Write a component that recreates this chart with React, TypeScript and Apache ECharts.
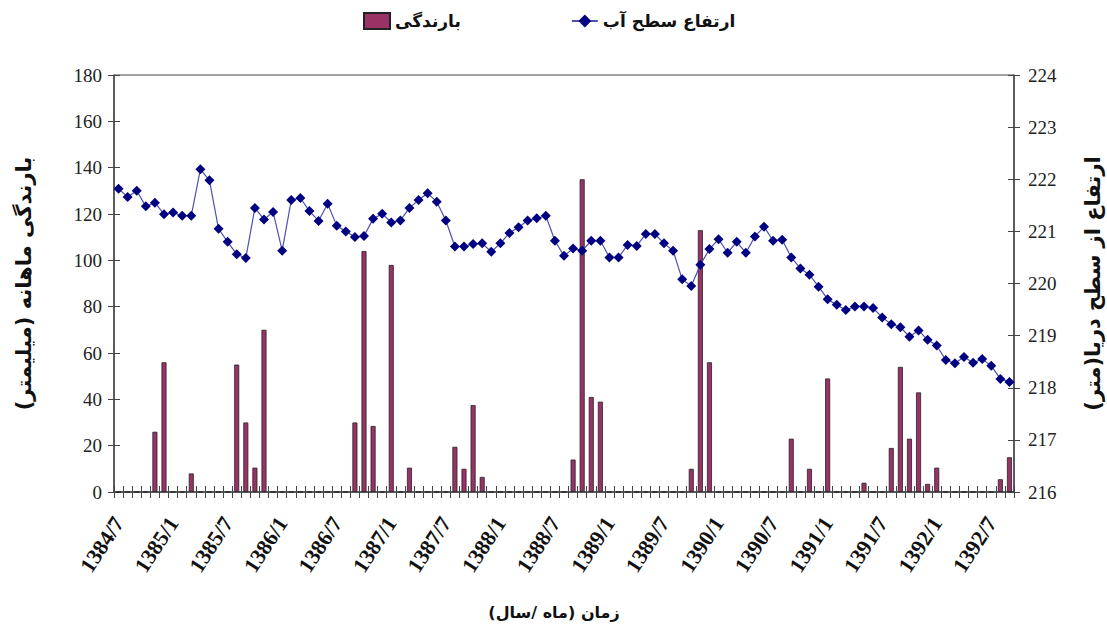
import React, { useEffect, useRef } from "react";
import * as echarts from "echarts";

const startYear = 1384;
const startMonth = 7;
const monthCount = 99;
const months: string[] = [];
for (let i = 0; i < monthCount; i++) {
  const m = startMonth - 1 + i;
  months.push(`${startYear + Math.floor(m / 12)}/${(m % 12) + 1}`);
}

const rainfall = [
  0, 0, 0, 0, 26, 56, 0, 0, 8, 0,
  0, 0, 0, 55, 30, 10.5, 70, 0, 0, 0,
  0, 0, 0, 0, 0, 0, 30, 104, 28.5, 0,
  98, 0, 10.5, 0, 0, 0, 0, 19.5, 10, 37.5,
  6.5, 0, 0, 0, 0, 0, 0, 0, 0, 0,
  14, 135, 41, 39, 0, 0, 0, 0, 0, 0,
  0, 0, 0, 10, 113, 56, 0, 0, 0, 0,
  0, 0, 0, 0, 23, 0, 10, 0, 49, 0,
  0, 0, 4, 0, 0, 19, 54, 23, 43, 3.5,
  10.5, 0, 0, 0, 0, 0, 0, 5.5, 15,
];

const waterLevel = [
  221.82, 221.66, 221.78, 221.48, 221.55, 221.33, 221.36, 221.3, 221.3, 222.19,
  221.98, 221.05, 220.8, 220.56, 220.49, 221.45, 221.23, 221.37, 220.63, 221.6,
  221.64, 221.39, 221.2, 221.53, 221.11, 221.0, 220.89, 220.91, 221.24, 221.34,
  221.17, 221.21, 221.45, 221.6, 221.73, 221.57, 221.21, 220.71, 220.71, 220.76,
  220.77, 220.61, 220.77, 220.97, 221.08, 221.21, 221.25, 221.3, 220.82, 220.53,
  220.67, 220.63, 220.82, 220.82, 220.5, 220.5, 220.74, 220.72, 220.95, 220.95,
  220.77, 220.63, 220.08, 219.95, 220.36, 220.66, 220.85, 220.59, 220.8, 220.59,
  220.9, 221.09, 220.82, 220.84, 220.5, 220.29, 220.17, 219.94, 219.7, 219.59,
  219.49, 219.56, 219.56, 219.53, 219.35, 219.22, 219.16, 218.98, 219.1, 218.92,
  218.81, 218.53, 218.47, 218.59, 218.48, 218.55, 218.42, 218.17, 218.11,
];

const rainName = "بارندگی";
const levelName = "ارتفاع سطح آب";
const leftTitle = "بارندگی ماهانه (میلیمتر)";
const rightTitle = "ارتفاع از سطح دریا(متر)";
const bottomTitle = "زمان (ماه /سال)";

const numFont = "'Liberation Serif', 'DejaVu Serif', serif";
const faFont = "'DejaVu Sans', sans-serif";
const axisColor = "#444";

export default function App() {
  const ref = useRef<HTMLDivElement>(null);
  useEffect(() => {
    document.body.style.margin = "0";
    if (!ref.current) return;
    const chart = echarts.init(ref.current, undefined, { renderer: "svg" });
    const tickStyle = { lineStyle: { color: axisColor, width: 1 } };
    chart.setOption({
      animation: false,
      backgroundColor: "#fff",
      legend: {
        top: 7,
        left: 358,
        itemGap: 110,
        itemWidth: 26,
        itemHeight: 16,
        textStyle: { fontFamily: faFont, fontWeight: "bold", fontSize: 17, color: "#111" },
        data: [
          { name: rainName, icon: "rect" },
          { name: levelName },
        ],
      },
      grid: {
        left: 114,
        right: 93,
        top: 75,
        bottom: 145,
        containLabel: false,
        outerBoundsMode: "none",
        show: true,
        borderColor: axisColor,
        borderWidth: 1,
      },
      xAxis: [
        {
          type: "category",
          data: months,
          boundaryGap: true,
          position: "bottom",
          name: bottomTitle,
          nameLocation: "middle",
          nameGap: 112,
          nameTextStyle: {
            fontFamily: faFont,
            fontWeight: "bold",
            fontSize: 16,
            color: "#111",
            padding: [0, 20, 0, 0],
          },
          axisLine: { lineStyle: { color: axisColor, width: 1.5 } },
          axisTick: { show: true, interval: 0, inside: false, length: 6, ...tickStyle },
          axisLabel: {
            interval: 5,
            rotate: 57,
            margin: 27,
            fontFamily: numFont,
            fontWeight: "bold",
            fontSize: 22,
            color: "#111",
          },
        },
        {
          type: "category",
          data: months,
          boundaryGap: true,
          position: "bottom",
          axisLine: { show: false },
          axisTick: { show: true, interval: 0, inside: true, length: 6, ...tickStyle },
          axisLabel: { show: false },
        },
      ],
      yAxis: [
        {
          type: "value",
          position: "left",
          min: 0,
          max: 180,
          interval: 20,
          name: leftTitle,
          nameLocation: "middle",
          nameRotate: 90,
          nameGap: 80,
          nameTextStyle: { fontFamily: faFont, fontWeight: "bold", fontSize: 21, color: "#111" },
          splitLine: { show: false },
          axisLine: { show: true, lineStyle: { color: axisColor, width: 1.5 } },
          axisTick: { show: true, inside: false, length: 6, ...tickStyle },
          axisLabel: { fontFamily: numFont, fontSize: 19, color: "#222", margin: 12 },
        },
        {
          type: "value",
          position: "right",
          min: 216,
          max: 224,
          interval: 1,
          name: rightTitle,
          nameLocation: "middle",
          nameRotate: 90,
          nameGap: 68,
          nameTextStyle: { fontFamily: faFont, fontWeight: "bold", fontSize: 21, color: "#111" },
          splitLine: { show: false },
          axisLine: { show: true, lineStyle: { color: axisColor, width: 1.5 } },
          axisTick: { show: true, inside: false, length: 6, ...tickStyle },
          axisLabel: { fontFamily: numFont, fontSize: 19, color: "#222", margin: 14 },
        },
        {
          type: "value",
          position: "left",
          min: 0,
          max: 180,
          interval: 20,
          splitLine: { show: false },
          axisLine: { show: false },
          axisTick: { show: true, inside: true, length: 6, ...tickStyle },
          axisLabel: { show: false },
        },
        {
          type: "value",
          position: "right",
          min: 216,
          max: 224,
          interval: 1,
          splitLine: { show: false },
          axisLine: { show: false },
          axisTick: { show: true, inside: true, length: 6, ...tickStyle },
          axisLabel: { show: false },
        },
      ],
      series: [
        {
          name: rainName,
          type: "bar",
          xAxisIndex: 0,
          yAxisIndex: 0,
          data: rainfall,
          barWidth: 5,
          itemStyle: { color: "#993366", borderColor: "#222", borderWidth: 0.8 },
          z: 3,
        },
        {
          name: levelName,
          type: "line",
          xAxisIndex: 0,
          yAxisIndex: 1,
          data: waterLevel,
          symbol: "diamond",
          symbolSize: 10,
          showAllSymbol: true,
          lineStyle: { color: "#5050b0", width: 1.2 },
          itemStyle: { color: "#000080" },
          z: 4,
        },
      ],
    });
    return () => chart.dispose();
  }, []);
  return <div ref={ref} style={{ width: 1107, height: 637 }} />;
}
